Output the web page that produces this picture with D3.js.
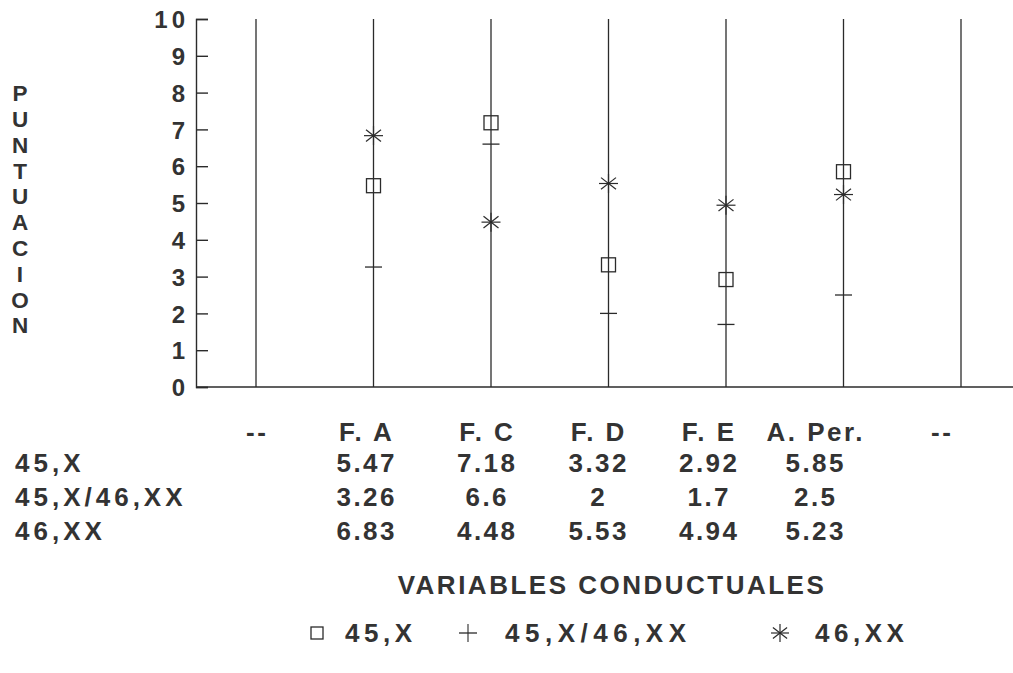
<!DOCTYPE html>
<html><head><meta charset="utf-8">
<script src="https://cdn.jsdelivr.net/npm/d3@7"></script>
<style>
body{margin:0;background:#fff;}
text{font-family:"Liberation Sans",Arial,sans-serif;font-weight:bold;fill:#333;}
</style></head>
<body><svg id="c" width="1013" height="673"></svg>
<script>
// ---- data ----
const categories = ["--","F. A","F. C","F. D","F. E","A. Per.","--"];
const seriesNames = ["45,X","45,X/46,XX","46,XX"];
const values45X = [null,5.47,7.18,3.32,2.92,5.85,null];
const values45X46XX = [null,3.26,6.6,2,1.7,2.5,null];
const values46XX = [null,6.83,4.48,5.53,4.94,5.23,null];
const tableText45X = ["","5.47","7.18","3.32","2.92","5.85",""];
const tableText45X46XX = ["","3.26","6.6","2","1.7","2.5",""];
const tableText46XX = ["","6.83","4.48","5.53","4.94","5.23",""];
const yTicks = [0,1,2,3,4,5,6,7,8,9,10];
const yTitle = "PUNTUACION";
const xTitle = "VARIABLES CONDUCTUALES";

// ---- layout ----
const svg = d3.select("#c");
const pLeft = 196, pRight = 1013, pTop = 19, pBottom = 387;
const x = d3.scaleLinear().domain([0, categories.length-1]).range([256, 961]);
const y = d3.scaleLinear().domain([0,10]).range([pBottom, pTop]);
const colShift = [0,-8,-5,-11,-18,-29,-20];
const ink = "#2b2b2b";
const FS = 26;

// axis
const tickLS = 4;
const yAxis = d3.axisLeft(y).tickValues(yTicks).tickSize(-12).tickPadding(11 - tickLS).tickFormat(d3.format("d"));
const gy = svg.append("g").attr("transform",`translate(${pLeft},0)`).call(yAxis);
gy.select(".domain").attr("stroke",ink).attr("stroke-width",1.4);
gy.selectAll(".tick line").attr("stroke",ink).attr("stroke-width",1.4);
gy.selectAll(".tick text").attr("font-size",24).attr("fill","#333").style("letter-spacing",tickLS+"px")
  .attr("dy","0.36em")
  .attr("font-family","Liberation Sans, Arial, sans-serif").attr("font-weight","bold");

// baseline
svg.append("line").attr("x1",pLeft).attr("x2",pRight).attr("y1",y(0)).attr("y2",y(0))
  .attr("stroke",ink).attr("stroke-width",1.5);

// vertical category lines
svg.selectAll(".vl").data(categories).enter().append("line")
  .attr("x1",(d,i)=>x(i)).attr("x2",(d,i)=>x(i)).attr("y1",y(10)).attr("y2",y(0))
  .attr("stroke",ink).attr("stroke-width",1.3);

// markers
function drawSquare(g,cx,cy,s){g.append("rect").attr("x",cx-s/2).attr("y",cy-s/2).attr("width",s).attr("height",s)
  .attr("fill","none").attr("stroke",ink).attr("stroke-width",1.3);}
function drawDash(g,cx,cy,w,withV){
  g.append("line").attr("x1",cx-w/2).attr("x2",cx+w/2).attr("y1",cy).attr("y2",cy).attr("stroke",ink).attr("stroke-width",1.3);
  if(withV) g.append("line").attr("x1",cx).attr("x2",cx).attr("y1",cy-w/2).attr("y2",cy+w/2).attr("stroke",ink).attr("stroke-width",1.1);
}
function drawStar(g,cx,cy,r){
  const a = 38*Math.PI/180;
  const segs = [[r,0],[0,r],[r*Math.cos(a),r*Math.sin(a)],[r*Math.cos(a),-r*Math.sin(a)]];
  segs.forEach(([dx,dy])=>g.append("line").attr("x1",cx-dx).attr("x2",cx+dx).attr("y1",cy-dy).attr("y2",cy+dy)
    .attr("stroke",ink).attr("stroke-width",1.2));
}
const mg = svg.append("g");
values45X.forEach((v,i)=>{ if(v!=null) drawSquare(mg,x(i),y(v),14); });
values45X46XX.forEach((v,i)=>{ if(v!=null) drawDash(mg,x(i),y(v),17,false); });
values46XX.forEach((v,i)=>{ if(v!=null) drawStar(mg,x(i),y(v),9.5); });

// y title (stacked letters)
svg.append("g").selectAll("text").data(yTitle.split("")).enter().append("text")
  .attr("x",20).attr("y",(d,i)=>93+i*25.8).attr("text-anchor","middle").attr("dy","0.36em")
  .attr("font-size",22.5).text(d=>d);

// category labels
const valLS = 2.5;
svg.append("g").selectAll("text").data(categories).enter().append("text")
  .attr("x",(d,i)=>x(i)+colShift[i]+valLS/2).attr("y",432).attr("text-anchor","middle").attr("dy","0.36em")
  .attr("font-size",FS).style("letter-spacing",valLS+"px").text(d=>d);

// data table
const rows = [tableText45X, tableText45X46XX, tableText46XX];
const rowY = [463,497,531];
rows.forEach((row,r)=>{
  svg.append("text").attr("x",15).attr("y",rowY[r]).attr("dy","0.36em")
    .attr("font-size",FS).style("letter-spacing","4px").text(seriesNames[r]);
  svg.append("g").selectAll("text").data(row).enter().append("text")
    .attr("x",(d,i)=>x(i)+colShift[i]+valLS/2).attr("y",rowY[r]).attr("text-anchor","middle").attr("dy","0.36em")
    .attr("font-size",FS).style("letter-spacing",valLS+"px").text(d=>d);
});

// x title
svg.append("text").attr("x",612).attr("y",585).attr("text-anchor","middle").attr("dy","0.36em")
  .attr("font-size",FS).style("letter-spacing","2.5px").text(xTitle);

// legend
const lg = svg.append("g");
const legX = [317,468,780];
const legTextX = [345,505,815];
const legLS = [4.5,5.5,4.5];
const legY = 633;
drawSquare(lg,legX[0],legY,12);
drawDash(lg,legX[1],legY,18,true);
drawStar(lg,legX[2],legY,9);
seriesNames.forEach((n,i)=>{
  lg.append("text").attr("x",legTextX[i]).attr("y",legY).attr("dy","0.36em")
    .attr("font-size",FS).style("letter-spacing",legLS[i]+"px").text(n);
});
</script></body></html>
